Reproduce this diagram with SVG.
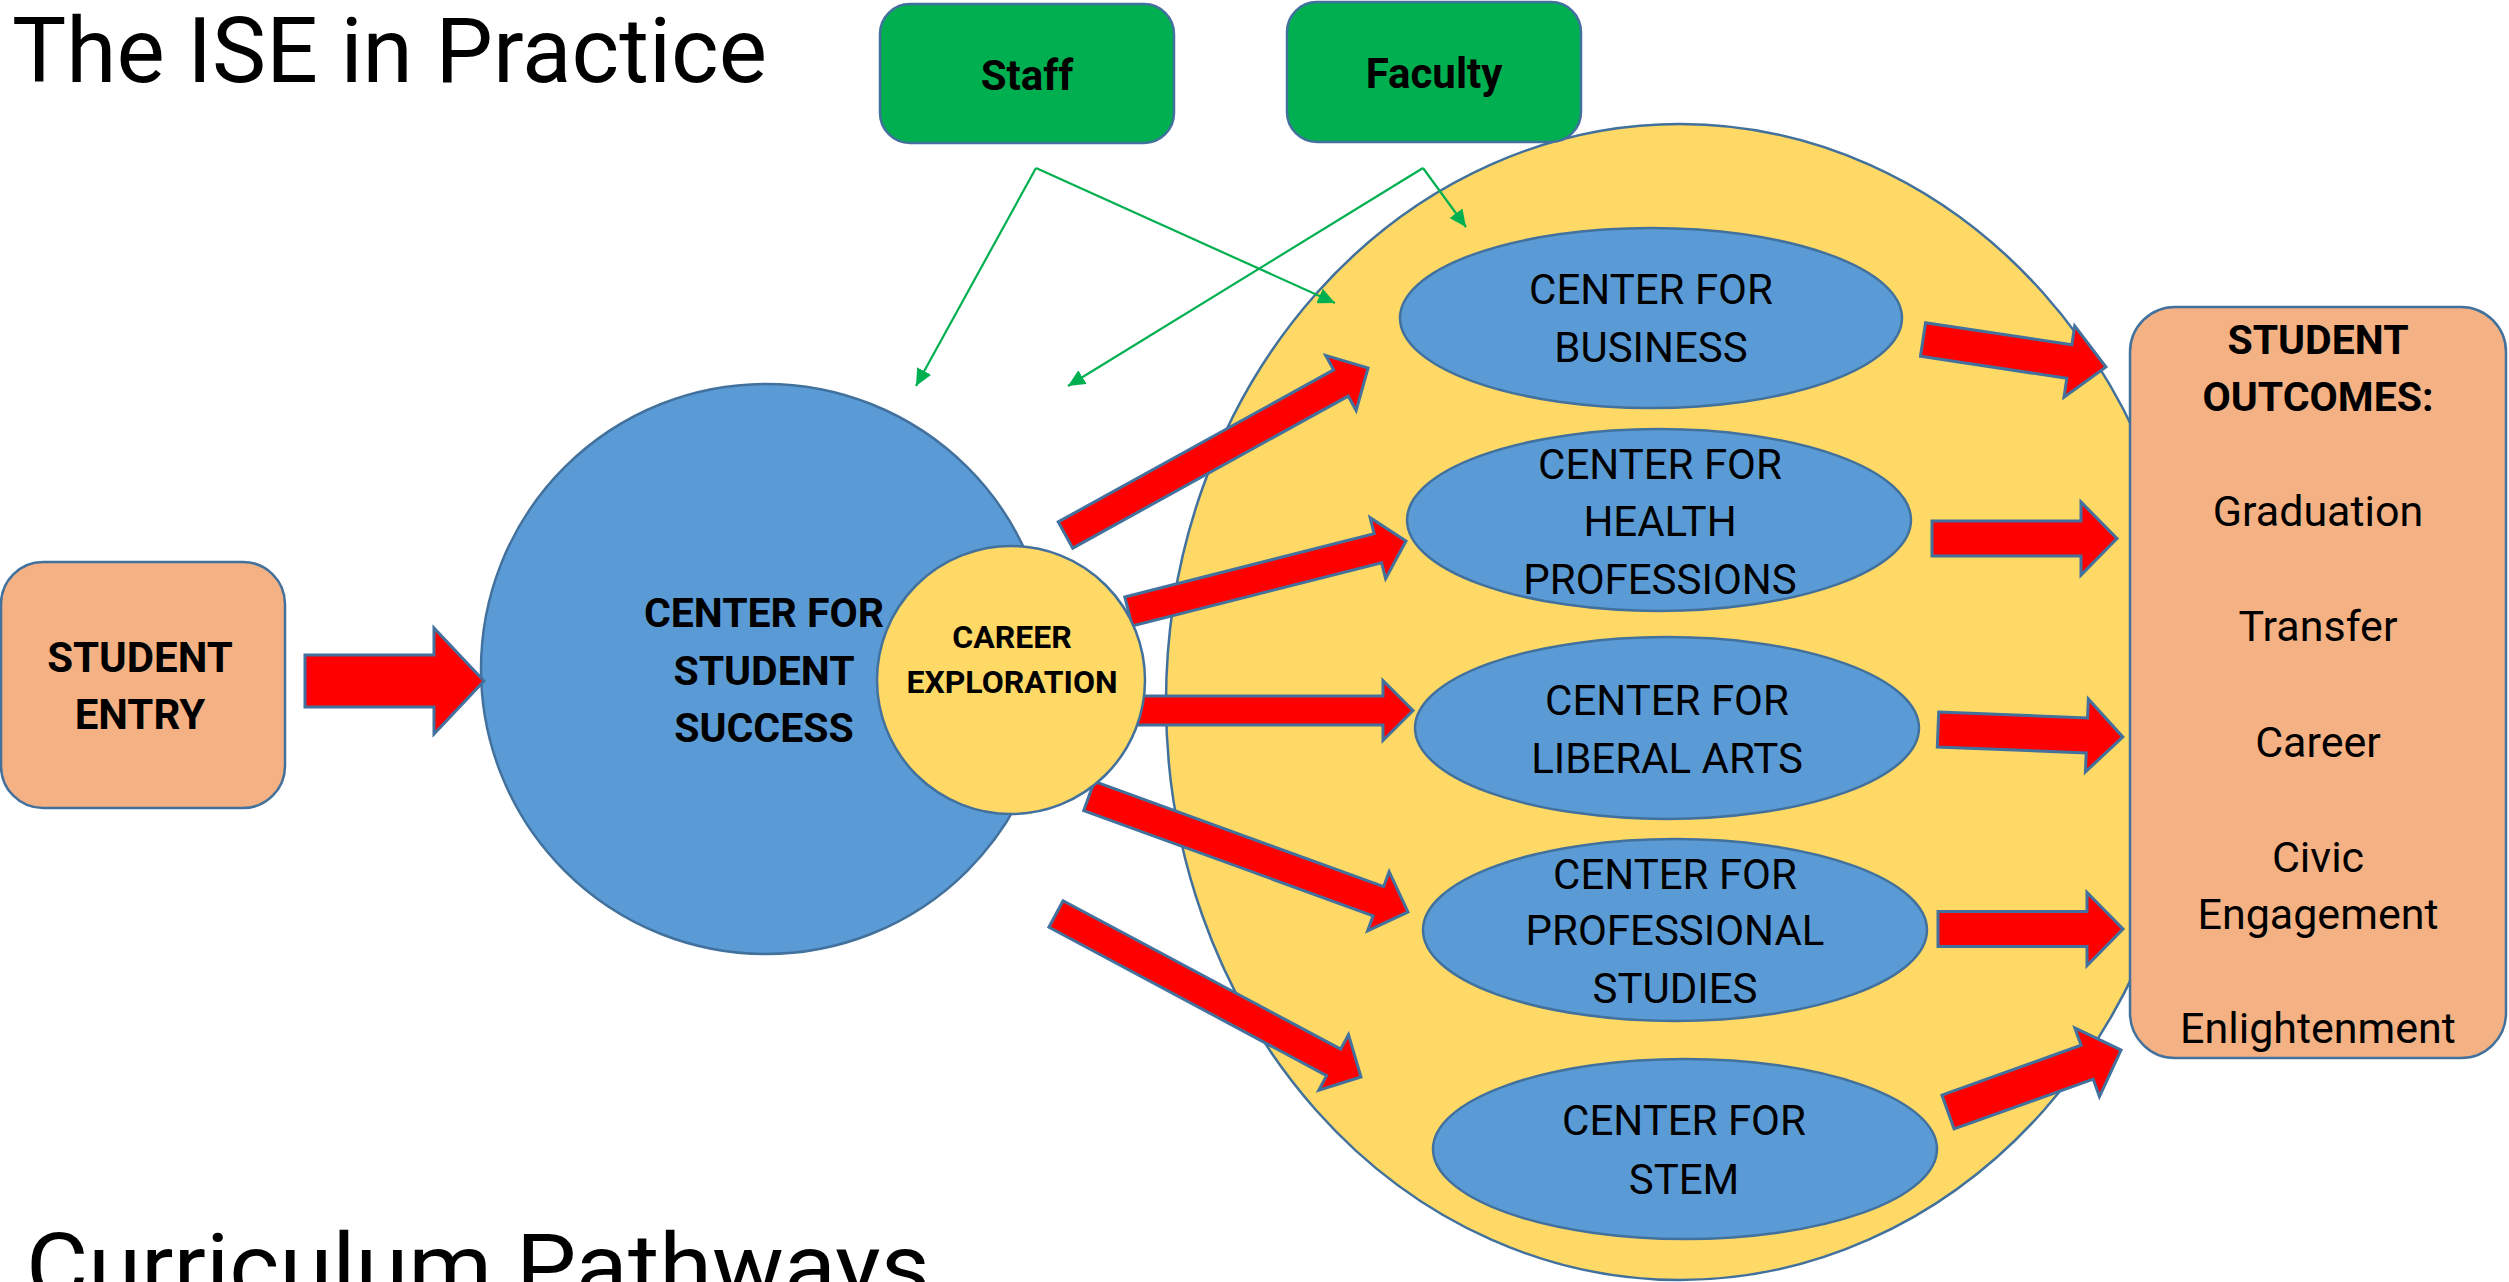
<svg xmlns="http://www.w3.org/2000/svg" width="2509" height="1282" viewBox="0 0 2509 1282">
<defs>
<style>
.t{font-family:Roboto,"Liberation Sans",sans-serif;fill:#000;text-anchor:middle}
.b{font-weight:700}
.big{font-family:Roboto,"Liberation Sans",sans-serif;font-weight:400;font-size:91px;fill:#000}
.ol{stroke:#41719C;stroke-width:2.5}
.blue{fill:#5B9BD5}
.yel{fill:#FFD966}
.peach{fill:#F4B183}
.grn{fill:#00B050}
.arr{fill:#FF0000;stroke:#41719C;stroke-width:3;stroke-linejoin:miter}
.gl{fill:none;stroke:#00B050;stroke-width:2.2}
</style>
<marker id="gh" markerUnits="userSpaceOnUse" markerWidth="18" markerHeight="16" refX="17" refY="8" orient="auto">
<path d="M0,0 L17,8 L0,16 Z" fill="#00B050"/>
</marker>
</defs>
<rect width="2509" height="1282" fill="#fff"/>
<text class="big" x="12" y="82" textLength="755" lengthAdjust="spacingAndGlyphs">The ISE in Practice</text>
<text class="big" x="26" y="1298" textLength="904" lengthAdjust="spacingAndGlyphs">Curriculum Pathways</text>

<g id="pathways-area">
<ellipse class="yel ol" cx="1680" cy="702" rx="514" ry="578"/>
</g>

<g id="staff">
<rect class="grn ol" x="880" y="4" width="294" height="139" rx="30"/>
<text class="t b" x="1027" y="90" font-size="42">Staff</text>
</g>
<g id="faculty">
<rect class="grn ol" x="1287" y="2" width="294" height="140" rx="30"/>
<text class="t b" x="1434" y="88" font-size="42">Faculty</text>
</g>

<g id="center-business">
<ellipse class="blue ol" cx="1651" cy="318" rx="251" ry="90"/>
<text class="t" font-size="42" x="1651" y="304">CENTER FOR</text>
<text class="t" font-size="42" x="1651" y="362">BUSINESS</text>
</g>
<g id="center-health">
<ellipse class="blue ol" cx="1659" cy="520" rx="252" ry="91"/>
<text class="t" font-size="42" x="1660" y="479">CENTER FOR</text>
<text class="t" font-size="42" x="1660" y="536">HEALTH</text>
<text class="t" font-size="42" x="1660" y="594">PROFESSIONS</text>
</g>
<g id="center-liberal-arts">
<ellipse class="blue ol" cx="1667" cy="728" rx="252" ry="91"/>
<text class="t" font-size="42" x="1667" y="715">CENTER FOR</text>
<text class="t" font-size="42" x="1667" y="773">LIBERAL ARTS</text>
</g>
<g id="center-professional">
<ellipse class="blue ol" cx="1675" cy="930" rx="252" ry="91"/>
<text class="t" font-size="42" x="1675" y="889">CENTER FOR</text>
<text class="t" font-size="42" x="1675" y="945">PROFESSIONAL</text>
<text class="t" font-size="42" x="1675" y="1003">STUDIES</text>
</g>
<g id="center-stem">
<ellipse class="blue ol" cx="1685" cy="1149" rx="252" ry="90"/>
<text class="t" font-size="42" x="1684" y="1135">CENTER FOR</text>
<text class="t" font-size="42" x="1684" y="1194">STEM</text>
</g>

<g id="student-outcomes">
<rect class="peach ol" x="2130" y="307" width="376" height="751" rx="45"/>
<text class="t b" font-size="41" x="2318" y="354">STUDENT</text>
<text class="t b" font-size="41" x="2318" y="411">OUTCOMES:</text>
<text class="t" font-size="43" x="2318" y="526">Graduation</text>
<text class="t" font-size="43" x="2318" y="641">Transfer</text>
<text class="t" font-size="43" x="2318" y="757">Career</text>
<text class="t" font-size="43" x="2318" y="872">Civic</text>
<text class="t" font-size="43" x="2318" y="929">Engagement</text>
<text class="t" font-size="43" x="2318" y="1043">Enlightenment</text>
</g>

<g id="student-entry">
<rect class="peach ol" x="1" y="562" width="284" height="246" rx="42"/>
<text class="t b" font-size="42" x="140" y="672">STUDENT</text>
<text class="t b" font-size="42" x="140" y="729">ENTRY</text>
</g>

<g id="center-student-success">
<circle class="blue ol" cx="766" cy="669" r="285"/>
<text class="t b" font-size="41" x="764" y="627">CENTER FOR</text>
<text class="t b" font-size="41" x="764" y="685">STUDENT</text>
<text class="t b" font-size="41" x="764" y="742">SUCCESS</text>
</g>

<g id="connectors">
<path class="arr" d="M305,655 L434,655 L434,628 L484,681 L434,734 L434,707 L305,707 Z"/>
<path class="arr" transform="translate(1065.5,535) rotate(-28.9)" d="M0,-15 L314.6,-15 L314.6,-31.5 L345.6,0 L314.6,31.5 L314.6,15 L0,15 Z"/>
<path class="arr" transform="translate(1128.5,611.5) rotate(-14.25)" d="M0,-15 L257.3,-15 L257.3,-31.5 L286.3,0 L257.3,31.5 L257.3,15 L0,15 Z"/>
<path class="arr" transform="translate(1135,710.5)" d="M0,-14.5 L248,-14.5 L248,-30 L278,0 L248,30 L248,14.5 L0,14.5 Z"/>
<path class="arr" transform="translate(1089,796) rotate(19.98)" d="M0,-15.5 L307.9,-15.5 L307.9,-31.5 L339.4,0 L307.9,31.5 L307.9,15.5 L0,15.5 Z"/>
<path class="arr" transform="translate(1056,914) rotate(28.12)" d="M0,-15 L314.8,-15 L314.8,-31.5 L345.8,0 L314.8,31.5 L314.8,15 L0,15 Z"/>
<path class="arr" transform="translate(1923,339.5) rotate(8.55)" d="M0,-17 L148,-17 L148,-36 L185,0 L148,36 L148,17 L0,17 Z"/>
<path class="arr" transform="translate(1932,538.5)" d="M0,-17.5 L149,-17.5 L149,-36.5 L185,0 L149,36.5 L149,17.5 L0,17.5 Z"/>
<path class="arr" transform="translate(1938,729.5) rotate(2.3)" d="M0,-17.5 L149,-17.5 L149,-36.5 L185,0 L149,36.5 L149,17.5 L0,17.5 Z"/>
<path class="arr" transform="translate(1938,929)" d="M0,-17.5 L149,-17.5 L149,-36.5 L185,0 L149,36.5 L149,17.5 L0,17.5 Z"/>
<path class="arr" transform="translate(1948,1112) rotate(-19.7)" d="M0,-18 L147.8,-18 L147.8,-36.5 L183.8,0 L147.8,36.5 L147.8,18 L0,18 Z"/>
<path class="gl" marker-end="url(#gh)" d="M1036,168 L916,386"/>
<path class="gl" marker-end="url(#gh)" d="M1036,168 L1335,303"/>
<path class="gl" marker-end="url(#gh)" d="M1423,168 L1068,386"/>
<path class="gl" marker-end="url(#gh)" d="M1423,168 L1466,227"/>
</g>

<g id="career-exploration">
<circle class="yel ol" cx="1011" cy="680" r="134"/>
<text class="t b" font-size="32" x="1012" y="648">CAREER</text>
<text class="t b" font-size="32" x="1012" y="693">EXPLORATION</text>
</g>
</svg>
